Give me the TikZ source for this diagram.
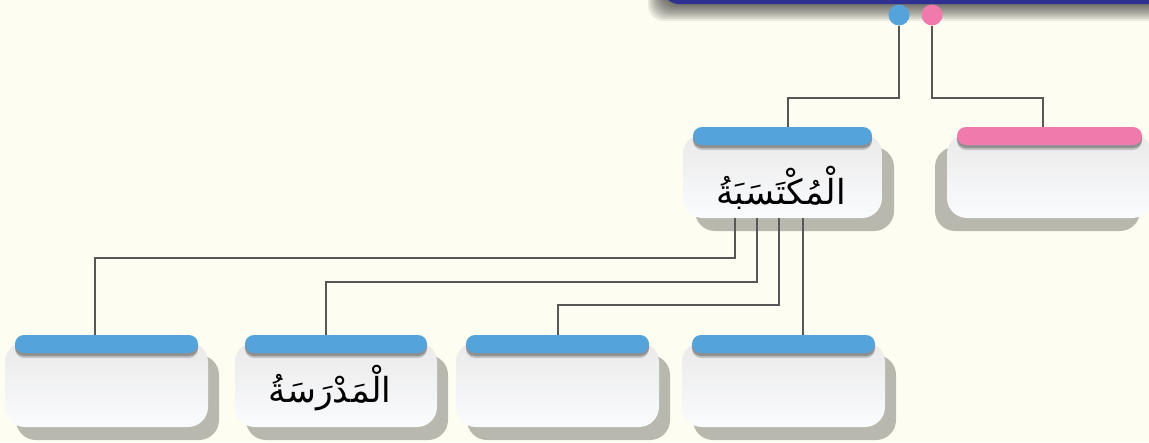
\documentclass[tikz,border=0pt]{standalone}
\usepackage{fontspec}
\newfontfamily\arabicfont[Script=Arabic]{DejaVu Sans}
\TeXXeTstate=1
\definecolor{bgc}{HTML}{FDFDF1}
\definecolor{barblue}{HTML}{54A3DB}
\definecolor{barpink}{HTML}{F07AAB}
\definecolor{topblue}{HTML}{2E3192}
\definecolor{linec}{HTML}{575757}
\definecolor{shadowc}{HTML}{B8B8AE}
\definecolor{bodytop}{HTML}{EAEAEA}
\definecolor{bodybot}{HTML}{FAFBFD}
\tikzset{
  cardbody/.style={rectangle, rounded corners=20pt, top color=bodytop, bottom color=bodybot, draw=none, inner sep=0pt},
  barnode/.style={rectangle, rounded corners=9pt, minimum height=18pt, inner sep=0pt, draw=none},
  conn/.style={draw=linec, line width=2pt},
  dotnode/.style={circle, minimum size=21pt, inner sep=0pt, draw=none},
  label/.style={font=\arabicfont\fontsize{34.5}{40}\selectfont, inner sep=0pt}
}
\newcommand\cardbox[8]{%
  \fill[shadowc, rounded corners=20pt] (#2+#6,#3+13) rectangle (#4+#6,#5+13);
  \node[cardbody, minimum width={#4-#2}, minimum height={#5-#3}] (#1) at ({(#2+#4)/2},{(#3+#5)/2}) {};
  \fill[black, opacity=0.18, rounded corners=9pt] (#2+10,#3-4) rectangle (#4-10,#3+16);
  \fill[black, opacity=0.25, rounded corners=9pt] (#2+10,#3-5) rectangle (#4-10,#3+14);
  \node[barnode, fill=#7, minimum width={#4-#2-20}] (#1bar) at ({(#2+#4)/2},#3+2) {};
  #8%
}
\begin{document}
\begin{tikzpicture}[x=1pt,y=-1pt]
\useasboundingbox (0,0) rectangle (1149,442);
\fill[bgc] (0,0) rectangle (1149,442);
% top banner shadow
\foreach \i in {1,...,10} {
  \fill[black, opacity=0.075, rounded corners=16pt] (664-\i*1.6,-30) rectangle (1190,3+\i*1.8);
}
\node[rectangle, rounded corners=16pt, fill=topblue, minimum width=527pt, minimum height=34pt, inner sep=0pt] (top) at (926.5,-13) {};
% cards
\cardbox{mid}{683}{134}{882}{218}{12}{barblue}{\node[label] (midtext) at (781,188) {\arabicfont\beginR الْمُكْتَسَبَةُ\endR};}
\cardbox{pink}{947}{134}{1152}{218}{-12}{barpink}{}
\cardbox{bA}{5}{342}{208}{427}{11}{barblue}{}
\cardbox{bB}{235}{342}{437}{427}{11}{barblue}{\node[label] (bBtext) at (330,388) {\arabicfont\beginR الْمَدْرَسَةُ\endR};}
\cardbox{bC}{456}{342}{659}{427}{11}{barblue}{}
\cardbox{bD}{682}{342}{885}{427}{11}{barblue}{}
% dots
\node[dotnode, fill=barblue] (dotB) at (899,15) {};
\node[dotnode, fill=barpink] (dotP) at (932,15) {};
% connectors
\draw[conn] (dotB.south) -- ++(0,72) -| ([xshift=5.5pt]midbar.north);
\draw[conn] (dotP.south) -- ++(0,72) -| ([xshift=-6.5pt]pinkbar.north);
\draw[conn] ([xshift=-47.5pt]mid.south) -- ++(0,40) -| ([xshift=-11.5pt]bAbar.north);
\draw[conn] ([xshift=-25.5pt]mid.south) -- ++(0,64) -| ([xshift=-10pt]bBbar.north);
\draw[conn] ([xshift=-3.5pt]mid.south) -- ++(0,87) -| ([xshift=0.5pt]bCbar.north);
\draw[conn] ([xshift=20.5pt]mid.south) -- ([xshift=20.5pt]mid.south |- bDbar.north);
\end{tikzpicture}
\end{document}
